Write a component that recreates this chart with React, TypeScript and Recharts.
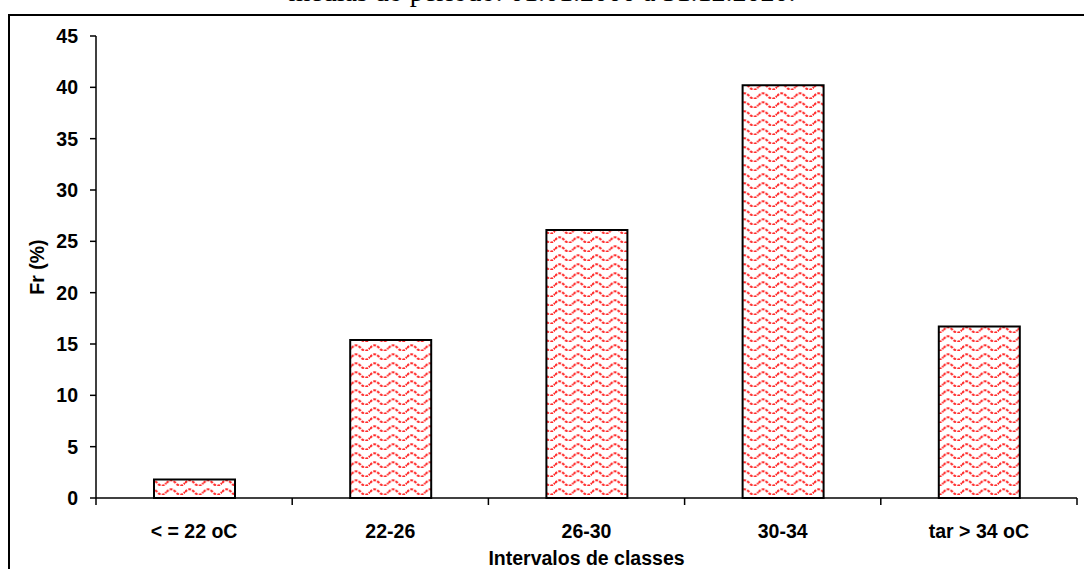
import React from 'react';
import { BarChart, Bar, XAxis, YAxis, Label } from 'recharts';

const categories = ['< = 22 oC', '22-26', '26-30', '30-34', 'tar > 34 oC'];
const frValues = [1.8, 15.4, 26.1, 40.2, 16.7];
const yTicks = [0, 5, 10, 15, 20, 25, 30, 35, 40, 45];
const titleText = 'médias do período: 01.01.2000 a 31.12.2020.';
const xLabelText = 'Intervalos de classes';
const yLabelText = 'Fr (%)';

const data = categories.map((c, i) => ({ category: c, fr: frValues[i] }));

const FONT = '"Liberation Sans", Arial, sans-serif';
const FS = 19.5;

const XTick = (props: any) => {
  const { x, y, payload, index, visibleTicksCount } = props;
  const off = payload && payload.offset ? payload.offset : 0;
  const last = index === visibleTicksCount - 1;
  return (
    <g>
      <line x1={x - off} x2={x - off} y1={y} y2={y + 7} stroke="#000" strokeWidth={1.5} />
      {last && <line x1={x + off} x2={x + off} y1={y} y2={y + 7} stroke="#000" strokeWidth={1.5} />}
      <text x={x} y={y + 40} textAnchor="middle" fontFamily={FONT} fontWeight="bold" fontSize={FS} fill="#000">
        {payload.value}
      </text>
    </g>
  );
};

export default function App() {
  return (
    <div style={{ position: 'absolute', left: 0, top: 0, width: 1084, height: 569, overflow: 'hidden', background: '#fff' }}>
      <svg width={0} height={0} style={{ position: 'absolute' }}>
        <defs>
          <pattern id="wavePattern" patternUnits="userSpaceOnUse" width={18.5} height={9}>
            <rect width={18.5} height={9} fill="#fff" />
            <path d="M0 6 Q4.6 0.5 9.25 6 T18.5 6" fill="none" stroke="#ff2a2a" strokeWidth={2.1} strokeDasharray="2.8 1.3" />
          </pattern>
        </defs>
      </svg>
      <div
        style={{
          position: 'absolute',
          left: 0,
          width: 1084,
          top: -24,
          textAlign: 'center',
          fontFamily: '"Liberation Serif", "Times New Roman", serif',
          fontSize: 28,
          lineHeight: '32px',
          color: '#000',
          whiteSpace: 'nowrap',
        }}
      >
        {titleText}
      </div>
      <div
        style={{
          position: 'absolute',
          left: 8,
          top: 14,
          width: 1200,
          height: 700,
          border: '2px solid #000',
          boxSizing: 'border-box',
        }}
      />
      <div style={{ position: 'absolute', left: 0, top: 0 }}>
        <BarChart
          width={1084}
          height={569}
          data={data}
          margin={{ top: 36, right: 7, bottom: 0, left: 0 }}
          barSize={81}
        >
          <XAxis
            dataKey="category"
            height={71}
            tickSize={0}
            tickMargin={0}
            tick={<XTick />}
            axisLine={{ stroke: '#000', strokeWidth: 1.5 }}
            interval={0}
          >
            <Label
              value={xLabelText}
              position="insideBottom"
              offset={4}
              style={{ fontFamily: FONT, fontWeight: 'bold', fontSize: FS, fill: '#000' }}
            />
          </XAxis>
          <YAxis
            width={96}
            domain={[0, 45]}
            ticks={yTicks}
            interval={0}
            tickSize={6}
            tickMargin={12}
            axisLine={{ stroke: '#000', strokeWidth: 1.5 }}
            tickLine={{ stroke: '#000', strokeWidth: 1.5 }}
            tick={{ fontFamily: FONT, fontWeight: 'bold', fontSize: FS, fill: '#000' }}
          >
            <Label
              value={yLabelText}
              angle={-90}
              position="insideLeft"
              offset={37}
              style={{ fontFamily: FONT, fontWeight: 'bold', fontSize: FS, fill: '#000', textAnchor: 'middle' }}
            />
          </YAxis>
          <Bar dataKey="fr" fill="url(#wavePattern)" stroke="#000" strokeWidth={2} isAnimationActive={false} />
        </BarChart>
      </div>
    </div>
  );
}
